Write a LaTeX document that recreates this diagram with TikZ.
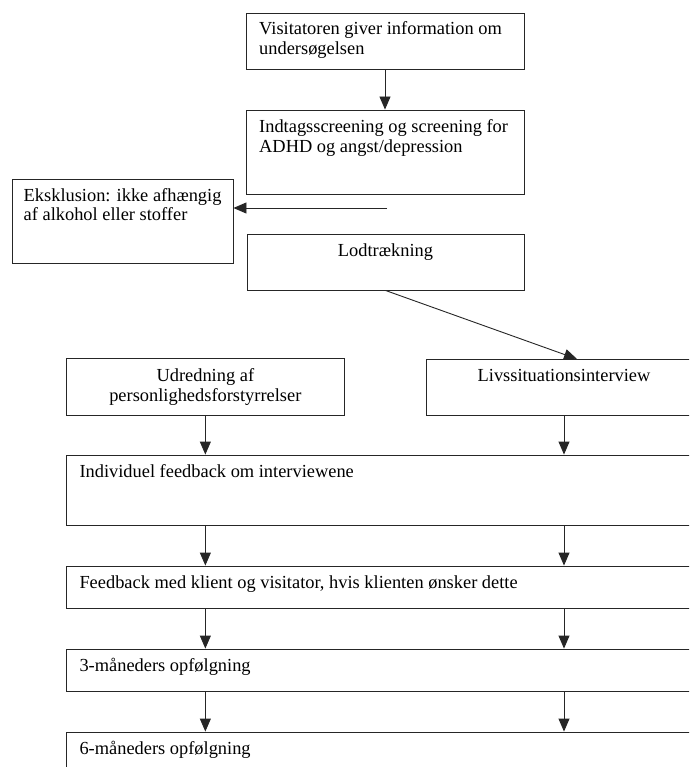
\documentclass[tikz,border=0pt]{standalone}
\usepackage{fontspec}
\setmainfont{Liberation Serif}
\usetikzlibrary{arrows.meta,calc}
\begin{document}
\begin{tikzpicture}[x=1pt,y=-1pt,
  box/.style={draw=black!85,line width=0.9pt,inner sep=0pt},
  txt/.style={inner sep=0pt,font=\fontsize{18.4}{19.5}\selectfont},
  ltxt/.style={txt,anchor=base west,align=left},
  ctxt/.style={txt,anchor=base,align=center},
  arr/.style={draw=black!85,line width=0.9pt,-{Triangle[length=13pt,width=11pt]}}]
\useasboundingbox (0,0) rectangle (689,767);
\clip (0,0) rectangle (689,767);
\fill[white] (0,0) rectangle (689,767);
% boxes
\node[box,minimum width=278pt,minimum height=56pt] (top) at (385,41) {};
\node[box,minimum width=278pt,minimum height=84pt] (scr) at (385,152) {};
\node[box,minimum width=221pt,minimum height=84pt] (excl) at (122.5,221) {};
\node[box,minimum width=277pt,minimum height=56pt] (lod) at (385.5,262) {};
\node[box,minimum width=277.3pt,minimum height=56.3pt] (udr) at (205.35,386.85) {};
\node[box,minimum width=276pt,minimum height=56pt] (livs) at (564,387) {};
\node[box,minimum width=635.3pt,minimum height=70pt] (indiv) at (384.35,490) {};
\node[box,minimum width=635.3pt,minimum height=42pt] (feed) at (384.35,587) {};
\node[box,minimum width=635.3pt,minimum height=42pt] (mthree) at (384.35,670) {};
\node[box,minimum width=635.3pt,minimum height=58pt] (msix) at (384.35,761) {};
% texts (base = baseline of the last line)
\node[ltxt] (ttop) at (259,54.5) {Visitatoren giver information om\\undersøgelsen};
\node[ltxt] (tscr) at (259,152.5) {Indtagsscreening og screening for\\ADHD og angst/depression};
\node[ltxt] (texcl) at (23.5,221) {Eksklusion: ikke afhængig\\af alkohol eller stoffer};
\node[ctxt] (tlod) at (385.5,256) {Lodtrækning};
\node[ctxt] (tudr) at (205.35,401) {Udredning af\\personlighedsforstyrrelser};
\node[ctxt] (tlivs) at (564,381.5) {Livssituationsinterview};
\node[ltxt] (tindiv) at (79.3,477.5) {Individuel feedback om interviewene};
\node[ltxt] (tfeed) at (79.3,588.5) {Feedback med klient og visitator, hvis klienten ønsker dette};
\node[ltxt] (tthree) at (79.3,671.5) {3-måneders opfølgning};
\node[ltxt] (tsix) at (79.3,754.5) {6-måneders opfølgning};
% connectors
\coordinate (exs) at (387,208);
\coordinate (ldend) at (577,359);
\draw[arr] (top.south) -- (scr.north);
\draw[arr] (exs) -- (excl.east |- exs);
\draw[arr] (lod.south) -- (ldend);
\draw[arr] (udr.south) -- (indiv.north -| udr.south);
\draw[arr] (livs.south) -- (indiv.north -| livs.south);
\draw[arr] (indiv.south -| udr.south) -- (feed.north -| udr.south);
\draw[arr] (indiv.south -| livs.south) -- (feed.north -| livs.south);
\draw[arr] (feed.south -| udr.south) -- (mthree.north -| udr.south);
\draw[arr] (feed.south -| livs.south) -- (mthree.north -| livs.south);
\draw[arr] (mthree.south -| udr.south) -- (msix.north -| udr.south);
\draw[arr] (mthree.south -| livs.south) -- (msix.north -| livs.south);
\end{tikzpicture}
\end{document}
